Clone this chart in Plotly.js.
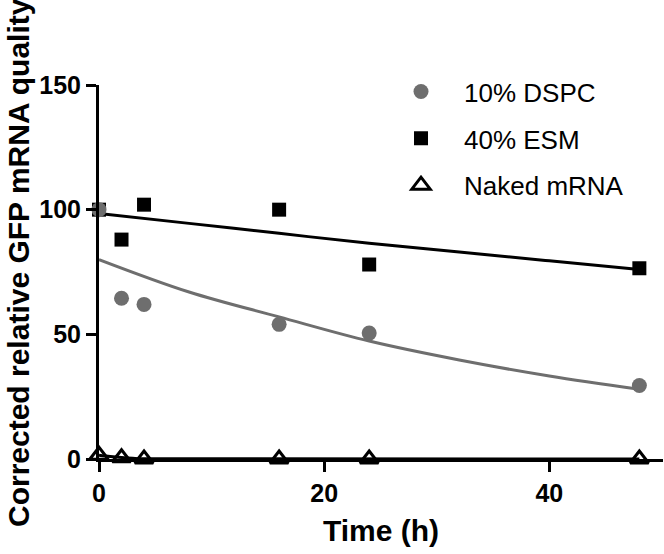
<!DOCTYPE html>
<html>
<head>
<meta charset="utf-8">
<script src="https://cdn.plot.ly/plotly-3.0.1.min.js"></script>
<style>html,body{margin:0;padding:0;background:#fff;}#chart{width:664px;height:554px;}</style>
</head>
<body>
<div id="chart"></div>
<script>
// Measured time points (h)
const timeH = [0, 2, 4, 16, 24, 48];
// Corrected relative GFP mRNA quality
const dspc = [100, 64.5, 62, 54, 50.5, 29.5];
const esm = [100, 88, 102, 100, 78, 76.5];
const naked = [1.5, 0.5, 0, 0, 0, 0];
// Fitted curves
const fitTime = [0, 8, 16, 24, 32, 40, 48];
const dspcFit = [80, 67, 57, 47.3, 39.7, 33.3, 28];
const esmFit = [98.5, 94.5, 90.5, 86.5, 83, 79.5, 76];
const nakedFitTime = [0, 1, 2, 3, 4, 48];
const nakedFit = [1.5, 1.0, 0.6, 0.3, 0.1, 0];
const seriesNames = ['10% DSPC', '40% ESM', 'Naked mRNA'];
const xTicks = [0, 20, 40];
const yTicks = [0, 50, 100, 150];
const xTitle = 'Time (h)';
const yTitle = 'Corrected relative GFP mRNA quality';

const grey = '#6e6e6e';
const FONT = 'Liberation Sans, Arial, Helvetica, sans-serif';

const traces = [
  {x: fitTime, y: esmFit, mode: 'lines', line: {color: '#000', width: 3, shape: 'spline'}, showlegend: false, cliponaxis: false, hoverinfo: 'skip'},
  {x: fitTime, y: dspcFit, mode: 'lines', line: {color: grey, width: 3, shape: 'spline'}, showlegend: false, cliponaxis: false, hoverinfo: 'skip'},
  {x: nakedFitTime, y: nakedFit, mode: 'lines', line: {color: '#000', width: 3, shape: 'spline'}, showlegend: false, cliponaxis: false, hoverinfo: 'skip'},
  {x: timeH, y: esm, name: seriesNames[1], mode: 'markers', legendrank: 2, legendgroup: 'b',
   marker: {symbol: 'square', size: 14, color: '#000'}, cliponaxis: false},
  {x: timeH, y: dspc, name: seriesNames[0], mode: 'markers', legendrank: 1, legendgroup: 'a',
   marker: {symbol: 'circle', size: 15, color: grey}, cliponaxis: false},
  {x: timeH, y: naked, name: seriesNames[2], mode: 'markers', legendrank: 3, legendgroup: 'c',
   marker: {symbol: 'triangle-up-open', size: 16, color: '#000', line: {width: 3, color: '#000'}}, cliponaxis: false}
];

const layout = {
  width: 664, height: 554,
  margin: {l: 99, r: 1, t: 85, b: 95},
  paper_bgcolor: '#fff', plot_bgcolor: '#fff',
  font: {family: FONT, color: '#000'},
  xaxis: {
    range: [0, 50.1], tickvals: xTicks, ticktext: xTicks.map(String),
    showgrid: false, zeroline: false, showline: true, linecolor: '#000', linewidth: 3,
    ticks: 'outside', ticklen: 10, tickwidth: 3, tickcolor: '#000',
    tickfont: {family: FONT, size: 25, weight: 'bold'},
    title: {text: '<b>' + xTitle + '</b>', font: {family: FONT, size: 30}, standoff: 14}
  },
  yaxis: {
    range: [0, 150], tickvals: yTicks, ticktext: yTicks.map(String),
    showgrid: false, zeroline: false, showline: true, linecolor: '#000', linewidth: 3,
    ticks: 'outside', ticklen: 10, tickwidth: 3, tickcolor: '#000',
    tickfont: {family: FONT, size: 25, weight: 'bold'}
  },
  annotations: [{
    text: '<b>' + yTitle + '</b>', textangle: -90, showarrow: false,
    xref: 'paper', yref: 'paper', x: -0.1436, y: 0.524, xanchor: 'center', yanchor: 'middle',
    font: {family: FONT, size: 30, color: '#000'}
  }],
  legend: {
    x: 0.4947, y: 1.045, xanchor: 'left', yanchor: 'top',
    font: {family: FONT, size: 26, color: '#000'},
    bgcolor: 'rgba(0,0,0,0)', itemwidth: 76, tracegroupgap: 10, traceorder: 'grouped'
  },
  showlegend: true
};

Plotly.newPlot('chart', traces, layout, {displayModeBar: false, staticPlot: true});
</script>
</body>
</html>
